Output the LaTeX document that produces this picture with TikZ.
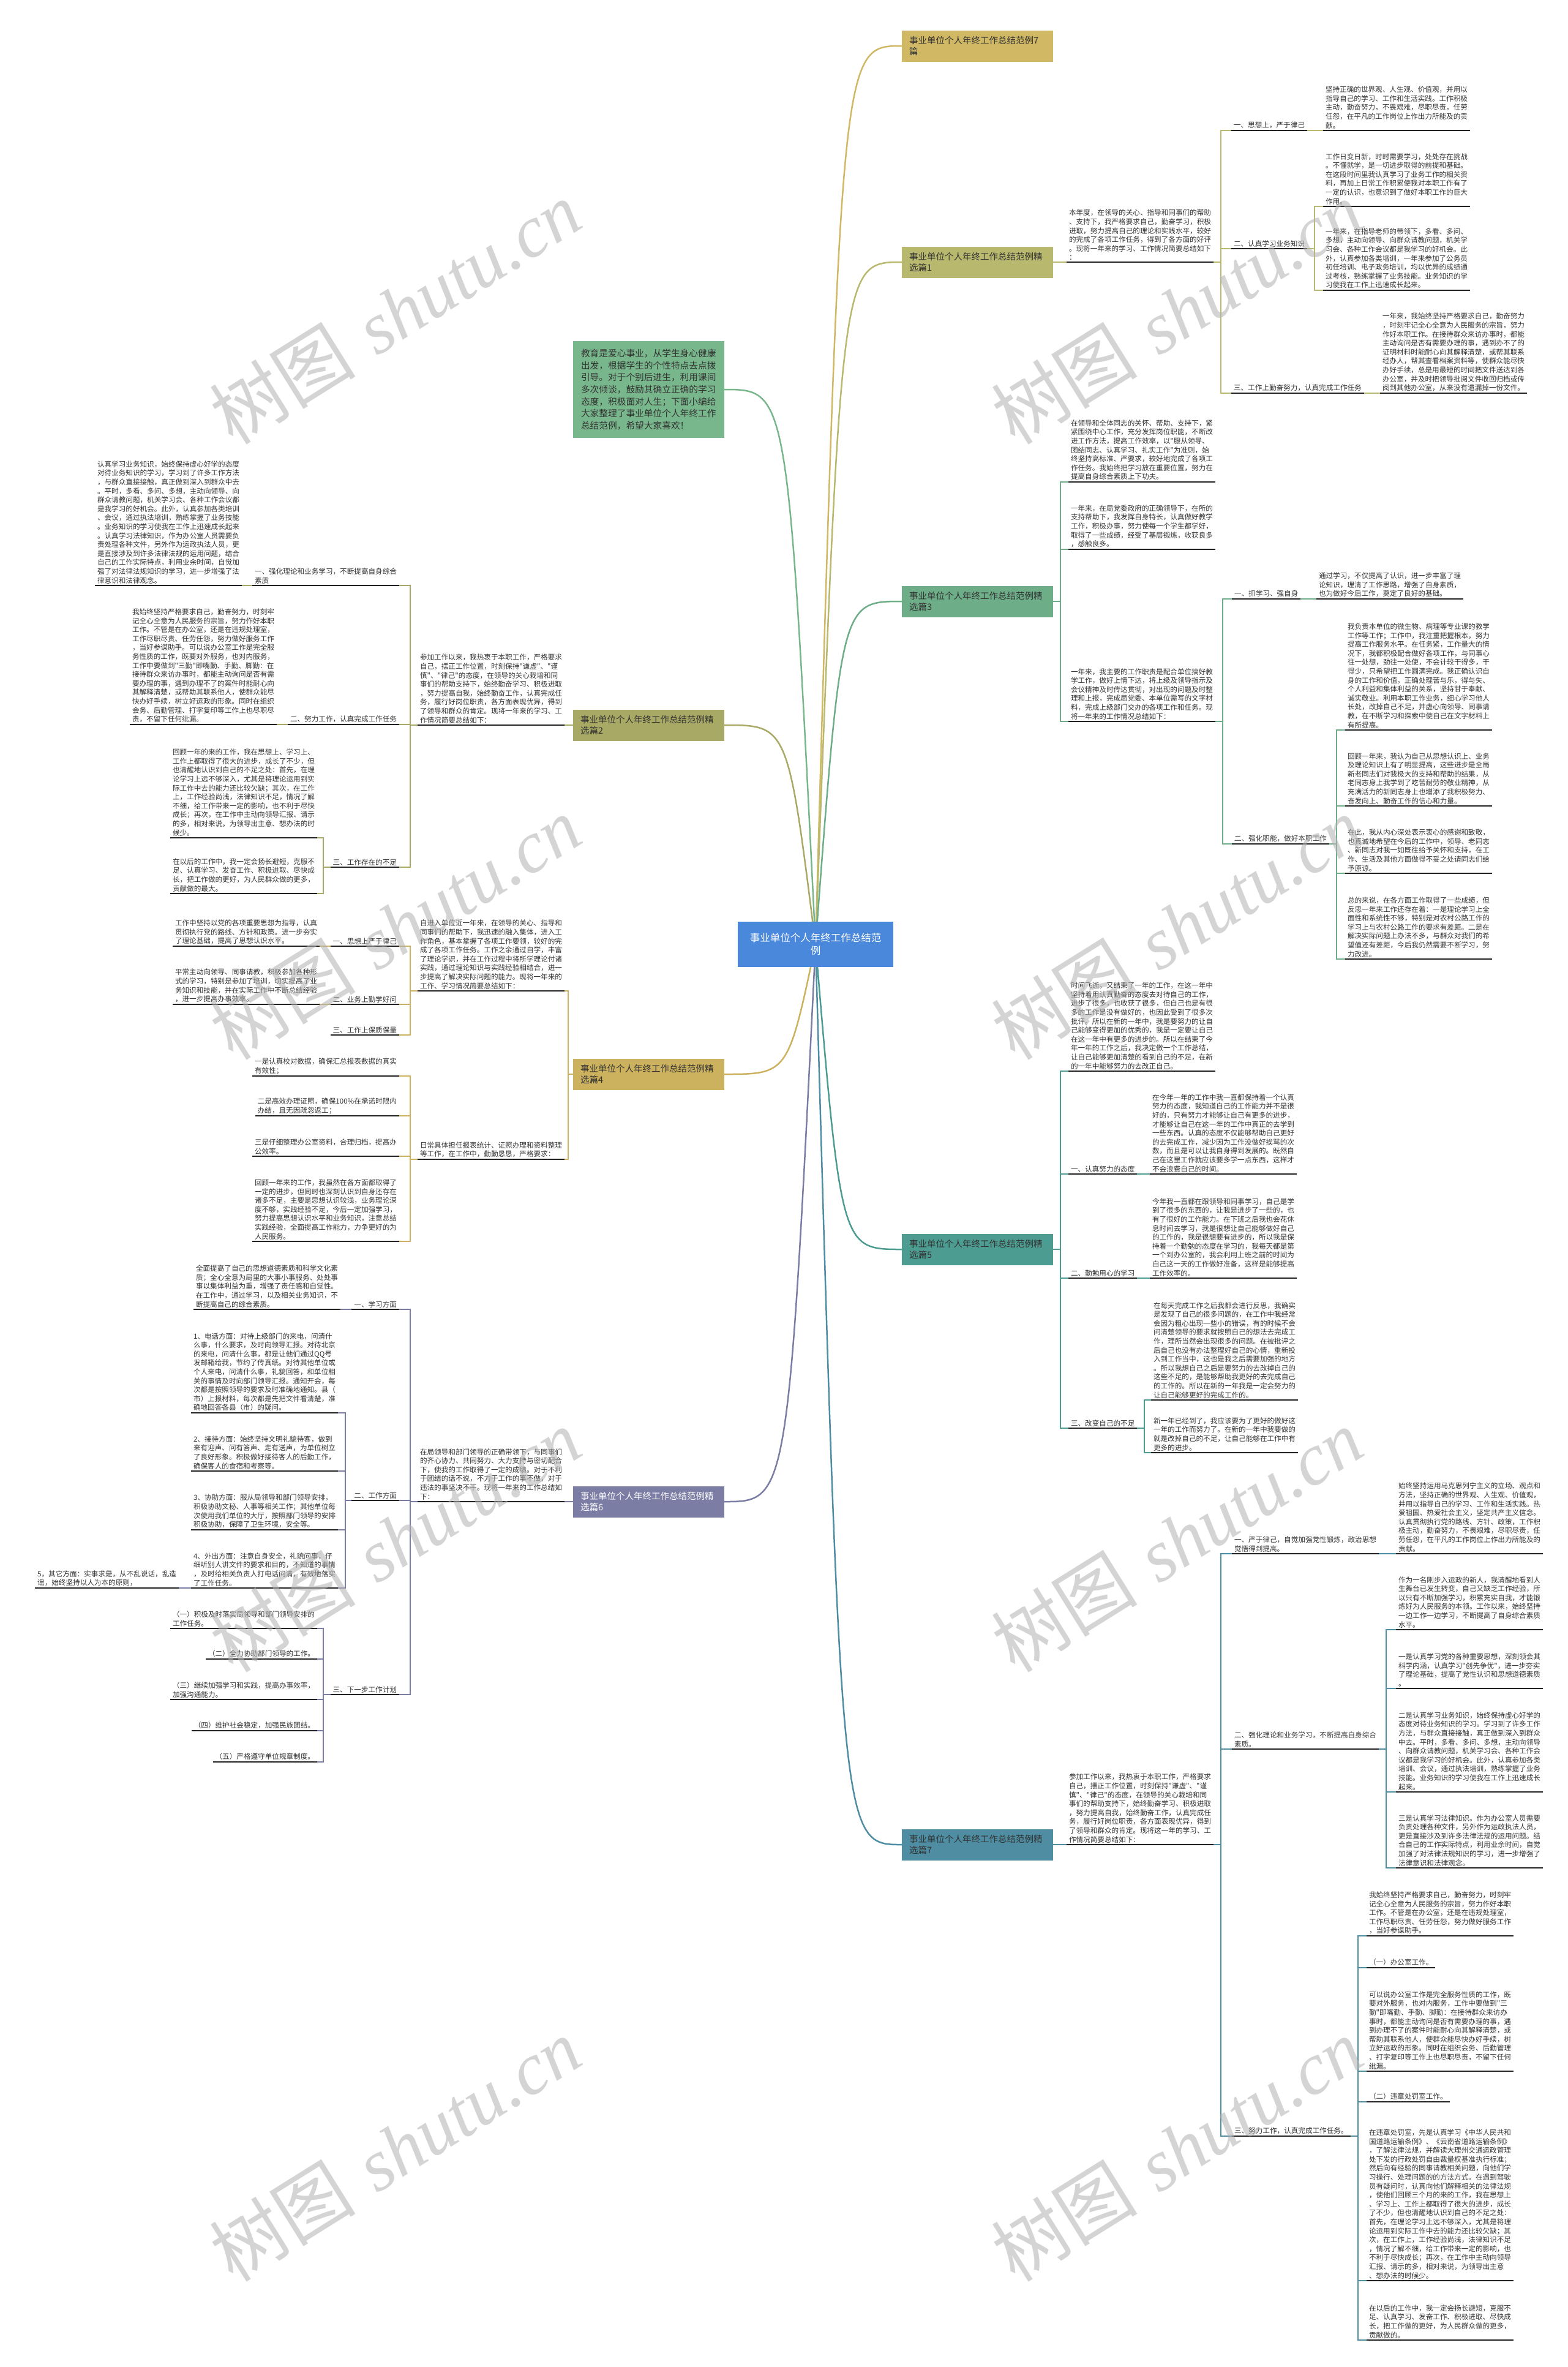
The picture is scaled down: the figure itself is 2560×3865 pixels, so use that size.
\documentclass[tikz,border=0pt]{standalone}
\usepackage{fontspec}
\newfontfamily\cjkf{Noto Sans CJK SC}
\newfontfamily\wmserif{Liberation Serif}
\pgfdeclarelayer{bg}
\pgfsetlayers{bg,main}
\definecolor{kTop}{HTML}{D0B865}
\definecolor{kA}{HTML}{B8B96E}
\definecolor{kB}{HTML}{6DAD88}
\definecolor{kC}{HTML}{4D9C91}
\definecolor{kG}{HTML}{4E8DA2}
\definecolor{kIn}{HTML}{78B68B}
\definecolor{kD}{HTML}{A7A964}
\definecolor{kE}{HTML}{CCB25E}
\definecolor{kF}{HTML}{7B7DA5}
\definecolor{kRoot}{HTML}{4A88DB}
\definecolor{txtc}{HTML}{333333}
\definecolor{ulc}{HTML}{222222}
\begin{document}
\begin{tikzpicture}[x=1pt,y=-1pt,
  txt/.style={font=\cjkf\fontsize{11.6pt}{14.6pt}\selectfont, align=left, inner xsep=4pt, inner ysep=3pt, text=txtc, outer sep=0pt},
  rtxt/.style={txt, anchor=south west},
  ltxt/.style={txt, anchor=south east},
  headbox/.style={font=\cjkf\fontsize{14.5pt}{18pt}\selectfont, align=left, text width=223pt, inner xsep=12pt, inner ysep=0pt, minimum height=51pt, text=txtc, outer sep=0pt},
  rootbox/.style={fill=kRoot, text=white, font=\cjkf\fontsize{16.5pt}{21pt}\selectfont, align=center, minimum width=254pt, minimum height=74pt, inner sep=0pt, outer sep=0pt},
  introbox/.style={fill=kIn, font=\cjkf\fontsize{14.7pt}{19.6pt}\selectfont, align=left, text width=221pt, inner xsep=13pt, minimum height=158pt, text=txtc, outer sep=0pt},
  uline/.style={line width=2pt, draw=ulc},
  conn/.style={line width=2pt, draw=#1},
  rootlink/.style={line width=2.5pt, draw=#1},
  wm/.style={rotate=32, text=black!30, opacity=0.55, font=\fontsize{120pt}{130pt}\selectfont, inner sep=0pt}
]
\path[use as bounding box] (0,0) rectangle (2560,3865);

% ---------- root and headings ----------
\node[rootbox] (root) at (1332,1542) {事业单位个人年终工作总结范\\例};
\node[headbox, fill=kTop] (h7a) at (1596.5,75) {事业单位个人年终工作总结范例7\\篇};
\node[headbox, fill=kA] (h1) at (1596.5,428) {事业单位个人年终工作总结范例精\\选篇1};
\node[headbox, fill=kB] (h3) at (1596.5,982) {事业单位个人年终工作总结范例精\\选篇3};
\node[headbox, fill=kC] (h5) at (1596.5,2040) {事业单位个人年终工作总结范例精\\选篇5};
\node[headbox, fill=kG] (h7) at (1596.5,3012) {事业单位个人年终工作总结范例精\\选篇7};
\node[headbox, fill=kD] (h2) at (1059.5,1184) {事业单位个人年终工作总结范例精\\选篇2};
\node[headbox, fill=kE] (h4) at (1059.5,1754) {事业单位个人年终工作总结范例精\\选篇4};
\node[headbox, fill=kF, text=white] (h6) at (1059.5,2452) {事业单位个人年终工作总结范例精\\选篇6};
\node[introbox] (intro) at (1059.5,636) {教育是爱心事业，从学生身心健康\\出发，根据学生的个性特点去点拨\\引导。对于个别后进生，利用课间\\多次倾谈，鼓励其确立正确的学习\\态度，积极面对人生；下面小编给\\大家整理了事业单位个人年终工作\\总结范例，希望大家喜欢！};

% ---------- 篇1 ----------
\node[rtxt] (a0) at (1742,428) {本年度，在领导的关心、指导和同事们的帮助\\、支持下，我严格要求自己，勤奋学习，积极\\进取，努力提高自己的理论和实践水平，较好\\的完成了各项工作任务，得到了各方面的好评\\。现将一年来的学习、工作情况简要总结如下\\：};
\node[rtxt] (a1) at (2011,213) {一、思想上，严于律己};
\node[rtxt] (a1p) at (2161,213) {坚持正确的世界观、人生观、价值观，并用以\\指导自己的学习、工作和生活实践。工作积极\\主动，勤奋努力，不畏艰难，尽职尽责，任劳\\任怨，在平凡的工作岗位上作出力所能及的贡\\献。};
\node[rtxt] (a2) at (2011,406) {二、认真学习业务知识};
\node[rtxt] (a2p) at (2161,337) {工作日变日新，时时需要学习，处处存在挑战\\。不懂就学，是一切进步取得的前提和基础。\\在这段时间里我认真学习了业务工作的相关资\\料，再加上日常工作积累使我对本职工作有了\\一定的认识，也意识到了做好本职工作的巨大\\作用。};
\node[rtxt] (a2q) at (2161,474) {一年来，在指导老师的带领下，多看、多问、\\多想，主动向领导、向群众请教问题，机关学\\习会、各种工作会议都是我学习的好机会。此\\外，认真参加各类培训，一年来参加了公务员\\初任培训、电子政务培训，均以优异的成绩通\\过考核，熟练掌握了业务技能。业务知识的学\\习使我在工作上迅速成长起来。};
\node[rtxt] (a3) at (2011,642) {三、工作上勤奋努力，认真完成工作任务};
\node[rtxt] (a3p) at (2254,642) {一年来，我始终坚持严格要求自己，勤奋努力\\，时刻牢记全心全意为人民服务的宗旨，努力\\作好本职工作。在接待群众来访办事时，都能\\主动询问是否有需要办理的事，遇到办不了的\\证明材料时能耐心向其解释清楚，或帮其联系\\经办人，帮其查看档案资料等，使群众能尽快\\办好手续，总是用最短的时间把文件送达到各\\办公室，并及时把领导批阅文件收回归档或传\\阅到其他办公室，从来没有遗漏掉一份文件。};

% ---------- 篇3 ----------
\node[rtxt] (b1) at (1745,787) {在领导和全体同志的关怀、帮助、支持下，紧\\紧围绕中心工作，充分发挥岗位职能，不断改\\进工作方法，提高工作效率，以"服从领导、\\团结同志、认真学习、扎实工作"为准则，始\\终坚持高标准、严要求，较好地完成了各项工\\作任务。我始终把学习放在重要位置，努力在\\提高自身综合素质上下功夫。};
\node[rtxt] (b2) at (1745,897) {一年来，在局党委政府的正确领导下，在所的\\支持帮助下，我发挥自身特长，认真做好教学\\工作，积极办事，努力使每一个学生都学好，\\取得了一些成绩，经受了基层锻炼，收获良多\\，感触良多。};
\node[rtxt] (b3) at (1745,1178) {一年来，我主要的工作职责是配合单位搞好教\\学工作，做好上情下达，将上级及领导指示及\\会议精神及时传达贯彻，对出现的问题及时整\\理和上报，完成局党委、本单位需写的文字材\\料，完成上级部门交办的各项工作和任务。现\\将一年来的工作情况总结如下：};
\node[rtxt] (b31) at (2012,978) {一、抓学习、强自身};
\node[rtxt] (b31p) at (2150,978) {通过学习，不仅提高了认识，进一步丰富了理\\论知识，理清了工作思路，增强了自身素质，\\也为做好今后工作，奠定了良好的基础。};
\node[rtxt] (b32) at (2012,1378) {二、强化职能，做好本职工作};
\node[rtxt] (b32a) at (2197,1192) {我负责本单位的微生物、病理等专业课的教学\\工作等工作；工作中，我注重把握根本，努力\\提高工作服务水平。在任务紧，工作量大的情\\况下，我都积极配合做好各项工作，与同事心\\往一处想，劲往一处使，不会计较干得多，干\\得少，只希望把工作圆满完成。我正确认识自\\身的工作和价值，正确处理苦与乐，得与失、\\个人利益和集体利益的关系，坚持甘于奉献、\\诚实敬业。利用本职工作业务，细心学习他人\\长处，改掉自己不足，并虚心向领导、同事请\\教，在不断学习和探索中使自己在文字材料上\\有所提高。};
\node[rtxt] (b32b) at (2197,1316) {回顾一年来，我认为自己从思想认识上、业务\\及理论知识上有了明显提高，这些进步是全局\\新老同志们对我极大的支持和帮助的结果，从\\老同志身上我学到了吃苦耐劳的敬业精神，从\\充满活力的新同志身上也增添了我积极努力、\\奋发向上、勤奋工作的信心和力量。};
\node[rtxt] (b32c) at (2197,1426) {在此，我从内心深处表示衷心的感谢和致敬，\\也真诚地希望在今后的工作中，领导、老同志\\、新同志对我一如既往给予关怀和支持，在工\\作、生活及其他方面做得不妥之处请同志们给\\予原谅。};
\node[rtxt] (b32d) at (2197,1566) {总的来说，在各方面工作取得了一些成绩，但\\反思一年来工作还存在着：一是理论学习上全\\面性和系统性不够，特别是对农村公路工作的\\学习上与农村公路工作的要求有差距。二是在\\解决实际问题上办法不多，与群众对我们的希\\望值还有差距，今后我仍然需要不断学习，努\\力改进。};

% ---------- 篇5 ----------
\node[rtxt] (c0) at (1745,1749) {时间飞逝，又结束了一年的工作，在这一年中\\坚持着用认真勤奋的态度去对待自己的工作，\\进步了很多，也收获了很多，但自己也是有很\\多的工作是没有做好的，也因此受到了很多次\\批评。所以在新的一年中，我是要努力的让自\\己能够变得更加的优秀的，我是一定要让自己\\在这一年中有更多的进步的。所以在结束了今\\年一年的工作之后，我决定做一个工作总结，\\让自己能够更加清楚的看到自己的不足，在新\\的一年中能够努力的去改正自己。};
\node[rtxt] (c1) at (1745,1917) {一、认真努力的态度};
\node[rtxt] (c1p) at (1878,1917) {在今年一年的工作中我一直都保持着一个认真\\努力的态度，我知道自己的工作能力并不是很\\好的，只有努力才能够让自己有更多的进步，\\才能够让自己在这一年的工作中真正的去学到\\一些东西。认真的态度不仅能够帮助自己更好\\的去完成工作，减少因为工作没做好挨骂的次\\数，而且是可以让我自身得到发展的。既然自\\己在这里工作就应该要多学一点东西，这样才\\不会浪费自己的时间。};
\node[rtxt] (c2) at (1745,2087) {二、勤勉用心的学习};
\node[rtxt] (c2p) at (1878,2087) {今年我一直都在跟领导和同事学习，自己是学\\到了很多的东西的，让我是进步了一些的，也\\有了很好的工作能力。在下班之后我也会花休\\息时间去学习，我是很想让自己能够做好自己\\的工作的，我是很想要有进步的，所以我是保\\持着一个勤勉的态度在学习的，我每天都是第\\一个到办公室的，我会利用上班之前的时间为\\自己这一天的工作做好准备，这样是能够提高\\工作效率的。};
\node[rtxt] (c3) at (1745,2332) {三、改变自己的不足};
\node[rtxt] (c3a) at (1880,2286) {在每天完成工作之后我都会进行反思，我确实\\是发现了自己的很多问题的，在工作中我经常\\会因为粗心出现一些小的错误，有的时候不会\\问清楚领导的要求就按照自己的想法去完成工\\作，理所当然会出现很多的问题。在被批评之\\后自己也没有办法整理好自己的心情，重新投\\入到工作当中，这也是我之后需要加强的地方\\。所以我想自己之后是要努力的去改掉自己的\\这些不足的，是能够帮助我更好的去完成自己\\的工作的。所以在新的一年我是一定会努力的\\让自己能够更好的完成工作的。};
\node[rtxt] (c3b) at (1880,2372) {新一年已经到了，我应该要为了更好的做好这\\一年的工作而努力了。在新的一年中我要做的\\就是改掉自己的不足，让自己能够在工作中有\\更多的进步。};

% ---------- 篇7 ----------
\node[rtxt] (g0) at (1742,3012) {参加工作以来，我热衷于本职工作，严格要求\\自己，摆正工作位置，时刻保持"谦虚"、"谨\\慎"、"律己"的态度，在领导的关心栽培和同\\事们的帮助支持下，始终勤奋学习、积极进取\\，努力提高自我，始终勤奋工作，认真完成任\\务，履行好岗位职责，各方面表现优异，得到\\了领导和群众的肯定。现将这一年的学习、工\\作情况简要总结如下：};
\node[rtxt] (g1) at (2012,2537) {一、严于律己，自觉加强党性锻炼，政治思想\\觉悟得到提高。};
\node[rtxt] (g1p) at (2280,2537) {始终坚持运用马克思列宁主义的立场、观点和\\方法，坚持正确的世界观、人生观、价值观，\\并用以指导自己的学习、工作和生活实践。热\\爱祖国、热爱社会主义，坚定共产主义信念。\\认真贯彻执行党的路线、方针、政策，工作积\\极主动，勤奋努力，不畏艰难，尽职尽责，任\\劳任怨，在平凡的工作岗位上作出力所能及的\\贡献。};
\node[rtxt] (g2) at (2012,2856) {二、强化理论和业务学习，不断提高自身综合\\素质。};
\node[rtxt] (g2a) at (2280,2661) {作为一名刚步入运政的新人，我清醒地看到人\\生舞台已发生转变，自己又缺乏工作经验，所\\以只有不断加强学习，积累充实自我，才能锻\\炼好为人民服务的本领。工作以来，始终坚持\\一边工作一边学习，不断提高了自身综合素质\\水平。};
\node[rtxt] (g2b) at (2280,2757) {一是认真学习党的各种重要思想，深刻领会其\\科学内涵，认真学习"创先争优"，进一步夯实\\了理论基础，提高了党性认识和思想道德素质\\。};
\node[rtxt] (g2c) at (2280,2926) {二是认真学习业务知识，始终保持虚心好学的\\态度对待业务知识的学习。学习到了许多工作\\方法，与群众直接接触，真正做到深入到群众\\中去。平时，多看、多问、多想，主动向领导\\、向群众请教问题，机关学习会、各种工作会\\议都是我学习的好机会。此外，认真参加各类\\培训、会议，通过执法培训，熟练掌握了业务\\技能。业务知识的学习使我在工作上迅速成长\\起来。};
\node[rtxt] (g2d) at (2280,3050) {三是认真学习法律知识。作为办公室人员需要\\负责处理各种文件，另外作为运政执法人员，\\更是直接涉及到许多法律法规的运用问题。结\\合自己的工作实际特点，利用业余时间，自觉\\加强了对法律法规知识的学习，进一步增强了\\法律意识和法律观念。};
\node[rtxt] (g3) at (2012,3488) {三、努力工作，认真完成工作任务。};
\node[rtxt] (g3a) at (2232,3161) {我始终坚持严格要求自己，勤奋努力，时刻牢\\记全心全意为人民服务的宗旨，努力作好本职\\工作。不管是在办公室，还是在违规处理室，\\工作尽职尽责、任劳任怨，努力做好服务工作\\，当好参谋助手。};
\node[rtxt] (g3b) at (2232,3213) {（一）办公室工作。};
\node[rtxt] (g3c) at (2232,3382) {可以说办公室工作是完全服务性质的工作，既\\要对外服务，也对内服务，工作中要做到"三\\勤"即嘴勤、手勤、脚勤：在接待群众来访办\\事时，都能主动询问是否有需要办理的事，遇\\到办理不了的案件时能耐心向其解释清楚，或\\帮助其联系他人，使群众能尽快办好手续，树\\立好运政的形象。同时在组织会务、后勤管理\\、打字复印等工作上也尽职尽责，不留下任何\\纰漏。};
\node[rtxt] (g3d) at (2232,3432) {（二）违章处罚室工作。};
\node[rtxt] (g3e) at (2232,3724) {在违章处罚室，先是认真学习《中华人民共和\\国道路运输条例》、《云南省道路运输条例》\\，了解法律法规，并解读大理州交通运政管理\\处下发的行政处罚自由裁量权基准执行标准；\\然后向有经验的同事请教相关问题，向他们学\\习操行、处理问题的的方法方式。在遇到驾驶\\员有疑问时，认真向他们解释相关的法律法规\\，使他们回顾三个月的来的工作，我在思想上\\、学习上、工作上都取得了很大的进步，成长\\了不少，但也清醒地认识到自己的不足之处：\\首先，在理论学习上远不够深入，尤其是将理\\论运用到实际工作中去的能力还比较欠缺；其\\次，在工作上，工作经验尚浅，法律知识不足\\，情况了解不细，给工作带来一定的影响，也\\不利于尽快成长；再次，在工作中主动向领导\\汇报、请示的多，相对来说，为领导出主意\\、想办法的时候少。};
\node[rtxt] (g3f) at (2232,3821) {在以后的工作中，我一定会扬长避短，克服不\\足、认真学习、发奋工作、积极进取、尽快成\\长，把工作做的更好，为人民群众做的更多，\\贡献做的。};

% ---------- 篇2 ----------
\node[ltxt] (d0) at (922,1184) {参加工作以来，我热衷于本职工作，严格要求\\自己，摆正工作位置，时刻保持"谦虚"、"谨\\慎"、"律己"的态度，在领导的关心栽培和同\\事们的帮助支持下，始终勤奋学习、积极进取\\，努力提高自我，始终勤奋工作，认真完成任\\务，履行好岗位职责，各方面表现优异，得到\\了领导和群众的肯定。现将一年来的学习、工\\作情况简要总结如下：};
\node[ltxt] (d1) at (652,956) {一、强化理论和业务学习，不断提高自身综合\\素质};
\node[ltxt] (d1p) at (395,956) {认真学习业务知识，始终保持虚心好学的态度\\对待业务知识的学习，学习到了许多工作方法\\，与群众直接接触，真正做到深入到群众中去\\。平时，多看、多问、多想，主动向领导、向\\群众请教问题，机关学习会、各种工作会议都\\是我学习的好机会。此外，认真参加各类培训\\、会议，通过执法培训，熟练掌握了业务技能\\。业务知识的学习使我在工作上迅速成长起来\\。认真学习法律知识，作为办公室人员需要负\\责处理各种文件，另外作为运政执法人员，更\\是直接涉及到许多法律法规的运用问题，结合\\自己的工作实际特点，利用业余时间，自觉加\\强了对法律法规知识的学习，进一步增强了法\\律意识和法律观念。};
\node[ltxt] (d2) at (652,1183) {二、努力工作，认真完成工作任务};
\node[ltxt] (d2p) at (452,1183) {我始终坚持严格要求自己，勤奋努力，时刻牢\\记全心全意为人民服务的宗旨，努力作好本职\\工作。不管是在办公室，还是在违规处理室，\\工作尽职尽责、任劳任怨，努力做好服务工作\\，当好参谋助手。可以说办公室工作是完全服\\务性质的工作，既要对外服务，也对内服务，\\工作中要做到"三勤"即嘴勤、手勤、脚勤：在\\接待群众来访办事时，都能主动询问是否有需\\要办理的事，遇到办理不了的案件时能耐心向\\其解释清楚，或帮助其联系他人，使群众能尽\\快办好手续，树立好运政的形象。同时在组织\\会务、后勤管理、打字复印等工作上也尽职尽\\责，不留下任何纰漏。};
\node[ltxt] (d3) at (652,1416) {三、工作存在的不足};
\node[ltxt] (d3a) at (518,1368) {回顾一年的来的工作，我在思想上、学习上、\\工作上都取得了很大的进步，成长了不少，但\\也清醒地认识到自己的不足之处：首先，在理\\论学习上远不够深入，尤其是将理论运用到实\\际工作中去的能力还比较欠缺；其次，在工作\\上，工作经验尚浅，法律知识不足，情况了解\\不细，给工作带来一定的影响，也不利于尽快\\成长；再次，在工作中主动向领导汇报、请示\\的多，相对来说，为领导出主意、想办法的时\\候少。};
\node[ltxt] (d3b) at (518,1459) {在以后的工作中，我一定会扬长避短，克服不\\足、认真学习、发奋工作、积极进取、尽快成\\长，把工作做的更好，为人民群众做的更多，\\贡献做的最大。};

% ---------- 篇4 ----------
\node[ltxt] (e0) at (922,1618) {自进入单位近一年来，在领导的关心、指导和\\同事们的帮助下，我迅速的融入集体，进入工\\作角色，基本掌握了各项工作要领，较好的完\\成了各项工作任务。工作之余通过自学，丰富\\了理论学识，并在工作过程中将所学理论付诸\\实践，通过理论知识与实践经验相结合，进一\\步提高了解决实际问题的能力。现将一年来的\\工作、学习情况简要总结如下：};
\node[ltxt] (e1) at (652,1545) {一、思想上严于律己};
\node[ltxt] (e1p) at (522,1545) {工作中坚持以党的各项重要思想为指导，认真\\贯彻执行党的路线、方针和政策。进一步夯实\\了理论基础，提高了思想认识水平。};
\node[ltxt] (e2) at (652,1640) {二、业务上勤学好问};
\node[ltxt] (e2p) at (522,1640) {平常主动向领导、同事请教，积极参加各种形\\式的学习，特别是参加了培训，切实提高了业\\务知识和技能，并在实际工作中不断总结经验\\，进一步提高办事效率。};
\node[ltxt] (e3) at (652,1690) {三、工作上保质保量};
\node[ltxt] (e4) at (922,1893) {日常具体担任报表统计、证照办理和资料整理\\等工作，在工作中，勤勤恳恳，严格要求：};
\node[ltxt] (e4a) at (652,1757) {一是认真校对数据，确保汇总报表数据的真实\\有效性；};
\node[ltxt] (e4b) at (652,1822) {二是高效办理证照，确保100\%在承诺时限内\\办结，且无因疏忽返工；};
\node[ltxt] (e4c) at (652,1888) {三是仔细整理办公室资料，合理归档，提高办\\公效率。};
\node[ltxt] (e4d) at (652,2027) {回顾一年来的工作，我虽然在各方面都取得了\\一定的进步，但同时也深刻认识到自身还存在\\诸多不足，主要是思想认识较浅，业务理论深\\度不够，实践经验不足，今后一定加强学习，\\努力提高思想认识水平和业务知识，注意总结\\实践经验，全面提高工作能力，力争更好的为\\人民服务。};

% ---------- 篇6 ----------
\node[ltxt] (f0) at (922,2452) {在局领导和部门领导的正确带领下，与同事们\\的齐心协力、共同努力、大力支持与密切配合\\下，使我的工作取得了一定的成绩。对于不利\\于团结的话不说，不力于工作的事不做，对于\\违法的事坚决不干。现将一年来的工作总结如\\下：};
\node[ltxt] (f1) at (652,2138) {一、学习方面};
\node[ltxt] (f1p) at (556,2138) {全面提高了自己的思想道德素质和科学文化素\\质；全心全意为局里的大事小事服务、处处事\\事以集体利益为重，增强了责任感和自觉性。\\在工作中，通过学习，以及相关业务知识，不\\断提高自己的综合素质。};
\node[ltxt] (f2) at (652,2450) {二、工作方面};
\node[ltxt] (f2a) at (552,2307) {1、电话方面：对待上级部门的来电，问清什\\么事，什么要求，及时向领导汇报。对待北京\\的来电，问清什么事，都是让他们通过QQ号\\发邮箱给我，节约了传真纸。对待其他单位或\\个人来电，问清什么事，礼貌回答，和单位相\\关的事情及时向部门领导汇报。通知开会，每\\次都是按照领导的要求及时准确地通知。县（\\市）上报材料，每次都是先把文件看清楚，准\\确地回答各县（市）的疑问。};
\node[ltxt] (f2b) at (552,2402) {2、接待方面：始终坚持文明礼貌待客，做到\\来有迎声、问有答声、走有送声，为单位树立\\了良好形象。积极做好接待客人的后勤工作，\\确保客人的食宿和考察等。};
\node[ltxt] (f2c) at (552,2498) {3、协助方面：服从局领导和部门领导安排，\\积极协助文秘、人事等相关工作；其他单位每\\次使用我们单位的大厅，按照部门领导的安排\\积极协助，保障了卫生环境，安全等。};
\node[ltxt] (f2d) at (552,2593) {4、外出方面：注意自身安全，礼貌问事，仔\\细听别人讲文件的要求和目的，不知道的事情\\，及时给相关负责人打电话问清，有效地落实\\了工作任务。};
\node[ltxt] (f2e) at (292,2593) {5，其它方面：实事求是，从不乱说话，乱造\\谣，始终坚持以人为本的原则，};
\node[ltxt] (f3) at (652,2767) {三、下一步工作计划};
\node[ltxt] (f3a) at (518,2659) {（一）积极及时落实局领导和部门领导安排的\\工作任务。};
\node[ltxt] (f3b) at (518,2709) {（二）全力协助部门领导的工作。};
\node[ltxt] (f3c) at (518,2775) {（三）继续加强学习和实践，提高办事效率，\\加强沟通能力。};
\node[ltxt] (f3d) at (518,2826) {（四）维护社会稳定，加强民族团结。};
\node[ltxt] (f3e) at (518,2877) {（五）严格遵守单位规章制度。};

% ---------- underlines ----------
\foreach \n in {a0,a1,a1p,a2,a2p,a2q,a3,a3p,b1,b2,b3,b31,b31p,b32,b32a,b32b,b32c,b32d,c0,c1,c1p,c2,c2p,c3,c3a,c3b,g0,g1,g1p,g2,g2a,g2b,g2c,g2d,g3,g3a,g3b,g3c,g3d,g3e,g3f,d0,d1,d1p,d2,d2p,d3,d3a,d3b,e0,e1,e1p,e2,e2p,e3,e4,e4a,e4b,e4c,e4d,f0,f1,f1p,f2,f2a,f2b,f2c,f2d,f2e,f3,f3a,f3b,f3c,f3d,f3e}
  \draw[uline] (\n.south west) -- (\n.south east);

% ---------- connectors (background) ----------
\begin{pgfonlayer}{bg}
\fill[white] (0,0) rectangle (2560,3865);
\draw[rootlink=kTop] (root.center) .. controls (1374,75) .. (h7a.west);
\draw[rootlink=kA] (root.center) .. controls (1374,428) .. (h1.west);
\draw[rootlink=kB] (root.center) .. controls (1374,982) .. (h3.west);
\draw[rootlink=kC] (root.center) .. controls (1374,2040) .. (h5.west);
\draw[rootlink=kG] (root.center) .. controls (1374,3012) .. (h7.west);
\draw[rootlink=kIn] (root.center) .. controls (1287,636) .. (intro.east);
\draw[rootlink=kD] (root.center) .. controls (1287,1184) .. (h2.east);
\draw[rootlink=kE] (root.center) .. controls (1287,1754) .. (h4.east);
\draw[rootlink=kF] (root.center) .. controls (1287,2452) .. (h6.east);
% 篇1
\draw[conn=kA] (h1.east) -- (a0.south west);
\foreach \c in {a1,a2,a3} \draw[conn=kA] (a0.south east) -- ++(12,0) |- (\c.south west);
\draw[conn=kA] (a1.south east) -- (a1p.south west);
\foreach \c in {a2p,a2q} \draw[conn=kA] (a2.south east) -- ++(12,0) |- (\c.south west);
\draw[conn=kA] (a3.south east) -- (a3p.south west);
% 篇3
\foreach \c in {b1,b2,b3} \draw[conn=kB] (h3.east) -- ++(12,0) |- (\c.south west);
\foreach \c in {b31,b32} \draw[conn=kB] (b3.south east) -- ++(12,0) |- (\c.south west);
\draw[conn=kB] (b31.south east) -- (b31p.south west);
\foreach \c in {b32a,b32b,b32c,b32d} \draw[conn=kB] (b32.south east) -- ++(12,0) |- (\c.south west);
% 篇5
\foreach \c in {c0,c1,c2,c3} \draw[conn=kC] (h5.east) -- ++(12,0) |- (\c.south west);
\draw[conn=kC] (c1.south east) -- (c1p.south west);
\draw[conn=kC] (c2.south east) -- (c2p.south west);
\foreach \c in {c3a,c3b} \draw[conn=kC] (c3.south east) -- ++(12,0) |- (\c.south west);
% 篇7
\draw[conn=kG] (h7.east) -- (g0.south west);
\foreach \c in {g1,g2,g3} \draw[conn=kG] (g0.south east) -- ++(12,0) |- (\c.south west);
\draw[conn=kG] (g1.south east) -- (g1p.south west);
\foreach \c in {g2a,g2b,g2c,g2d} \draw[conn=kG] (g2.south east) -- ++(12,0) |- (\c.south west);
\foreach \c in {g3a,g3b,g3c,g3d,g3e,g3f} \draw[conn=kG] (g3.south east) -- ++(12,0) |- (\c.south west);
% 篇2
\draw[conn=kD] (h2.west) -- (d0.south east);
\foreach \c in {d1,d2,d3} \draw[conn=kD] (d0.south west) -- ++(-12,0) |- (\c.south east);
\draw[conn=kD] (d1.south west) -- (d1p.south east);
\draw[conn=kD] (d2.south west) -- (d2p.south east);
\foreach \c in {d3a,d3b} \draw[conn=kD] (d3.south west) -- ++(-12,0) |- (\c.south east);
% 篇4
\foreach \c in {e0,e4} \draw[conn=kE] (h4.west) -- ++(-8,0) |- (\c.south east);
\foreach \c in {e1,e2,e3} \draw[conn=kE] (e0.south west) -- ++(-12,0) |- (\c.south east);
\draw[conn=kE] (e1.south west) -- (e1p.south east);
\draw[conn=kE] (e2.south west) -- (e2p.south east);
\foreach \c in {e4a,e4b,e4c,e4d} \draw[conn=kE] (e4.south west) -- ++(-12,0) |- (\c.south east);
% 篇6
\draw[conn=kF] (h6.west) -- (f0.south east);
\foreach \c in {f1,f2,f3} \draw[conn=kF] (f0.south west) -- ++(-12,0) |- (\c.south east);
\draw[conn=kF] (f1.south west) -- (f1p.south east);
\foreach \c in {f2a,f2b,f2c,f2d} \draw[conn=kF] (f2.south west) -- ++(-10,0) |- (\c.south east);
\draw[conn=kF] (f2d.south west) -- (f2e.south east);
\foreach \c in {f3a,f3b,f3c,f3d,f3e} \draw[conn=kF] (f3.south west) -- ++(-12,0) |- (\c.south east);
\end{pgfonlayer}

% ---------- watermarks ----------
\foreach \x/\y [count=\i] in {645/510,1922/510,645/1515,1922/1515,645/2515,1922/2515,645/3510,1922/3510}
  \node[wm] (wm\i) at (\x,\y) {{\cjkf 树图} {\wmserif\itshape shutu.cn}};
\end{tikzpicture}
\end{document}
